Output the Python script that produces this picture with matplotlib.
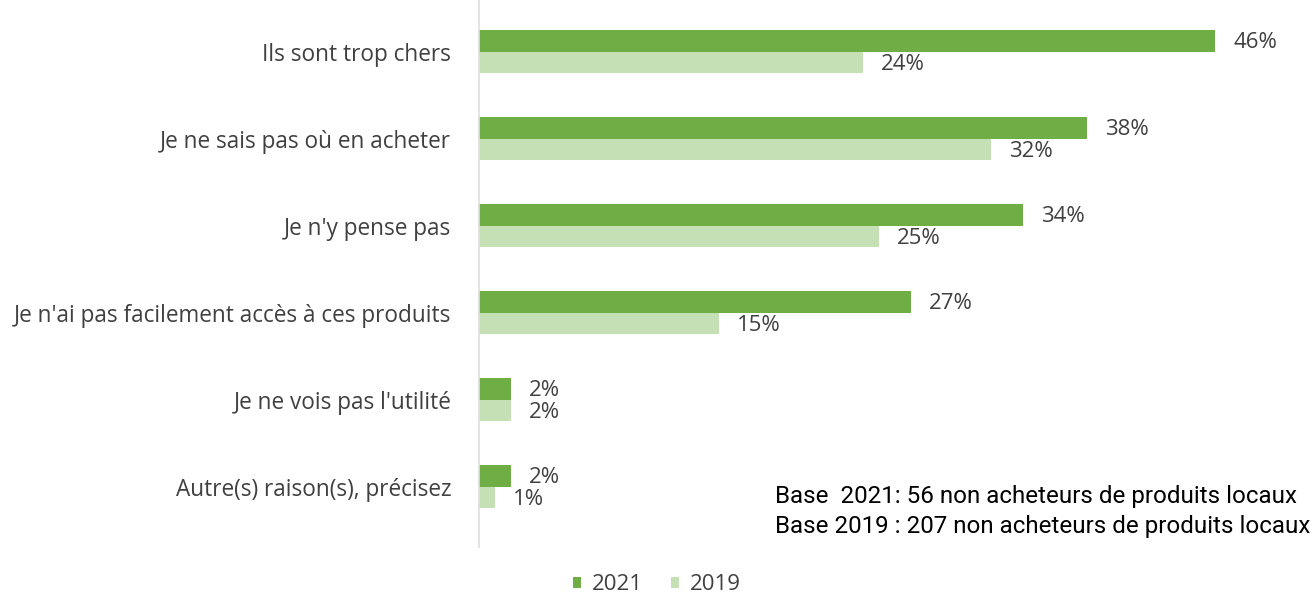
import matplotlib.pyplot as plt
import numpy as np

categories = [
    "Ils sont trop chers",
    "Je ne sais pas où en acheter",
    "Je n'y pense pas",
    "Je n'ai pas facilement accès à ces produits",
    "Je ne vois pas l'utilité",
    "Autre(s) raison(s), précisez",
]
values_2021 = [46, 38, 34, 27, 2, 2]
values_2019 = [24, 32, 25, 15, 2, 1]
series_labels = ["2021", "2019"]
base_notes = [
    "Base  2021: 56 non acheteurs de produits locaux",
    "Base 2019 : 207 non acheteurs de produits locaux",
]

GREEN_DARK = "#6fad45"
GREEN_LIGHT = "#c6e0b5"
TEXT_GREY = "#404040"
LABEL_FONT = "Open Sans"

W, H = 1316, 596
fig = plt.figure(figsize=(W / 100, H / 100), dpi=100)

# axes placed in pixel units: zero line at x=479, 16 px per percent, 87 px per category
y_lo, y_hi = -0.6, 5.7
left, right = 479, 479 + 16 * 50
top = 51.5 + y_lo * 87
bottom = 51.5 + y_hi * 87
ax = fig.add_axes([left / W, 1 - bottom / H, (right - left) / W, (bottom - top) / H])

y = np.arange(len(categories))
h = 0.25
bars_21 = ax.barh(y - h / 2, values_2021, height=h, color=GREEN_DARK, label=series_labels[0])
bars_19 = ax.barh(y + h / 2, values_2019, height=h, color=GREEN_LIGHT, label=series_labels[1])

ax.set_xlim(0, 50)
ax.set_ylim(y_hi, y_lo)
ax.set_yticks(y)
ax.set_yticklabels(categories, fontsize=16.3, color=TEXT_GREY, family=LABEL_FONT)
ax.tick_params(axis="y", length=0, pad=20)
ax.set_xticks([])
for side in ["top", "right", "bottom"]:
    ax.spines[side].set_visible(False)
ax.spines["left"].set_color("#dedede")
ax.spines["left"].set_linewidth(1.2)

for bars, vals in [(bars_21, values_2021), (bars_19, values_2019)]:
    for rect, v in zip(bars, vals):
        ax.annotate(f"{v}%", (v, rect.get_y() + rect.get_height() / 2),
                    xytext=(13, -1.5), textcoords="offset points",
                    ha="left", va="center", fontsize=16, color=TEXT_GREY, family=LABEL_FONT)

fig.legend(handles=[bars_21, bars_19], labels=series_labels, loc="center left",
           bbox_to_anchor=(573 / W, 1 - 585 / H), ncol=2, frameon=False,
           borderpad=0, borderaxespad=0,
           handlelength=0.36, handleheight=0.36, handletextpad=0.5, columnspacing=1.25,
           prop={"family": LABEL_FONT, "size": 16}, labelcolor=TEXT_GREY)

for note, base_y in zip(base_notes, [503, 533]):
    fig.text(775 / W, 1 - base_y / H, note, ha="left", va="baseline",
             fontsize=17.4, family="Roboto", color="black")

fig.savefig("out.png", dpi=100, facecolor="white")
